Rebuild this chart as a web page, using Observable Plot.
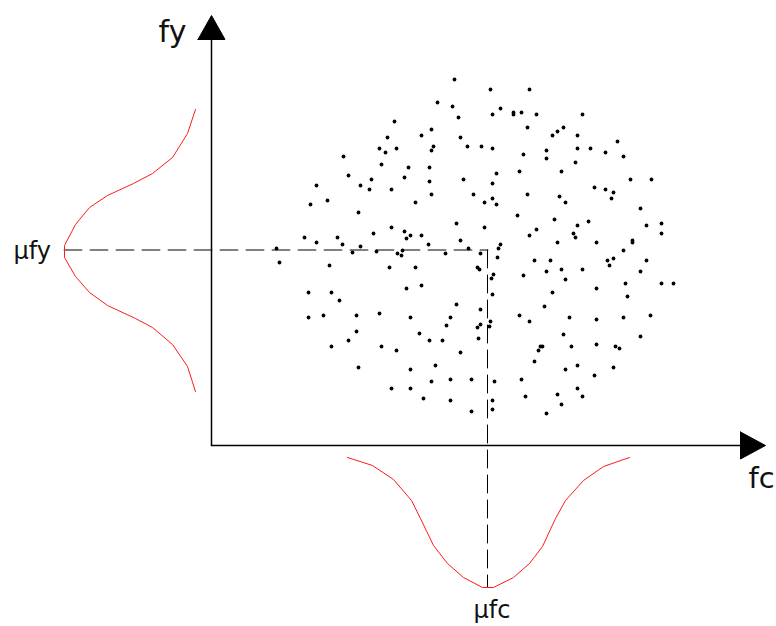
<!DOCTYPE html>
<html>
<head>
<meta charset="utf-8">
<script src="https://cdn.jsdelivr.net/npm/d3@7"></script>
<script src="https://cdn.jsdelivr.net/npm/@observablehq/plot@0.6"></script>
<style>
  html, body { margin: 0; padding: 0; background: #fff; }
  svg { display: block; }
</style>
</head>
<body>
<div id="chart"></div>
<script>
// Joint sample of concrete strength (fc) and steel yield strength (fy)
const samples = [
  [243,366],[226,343],[241,339],[247,328],[183,324],[220,316],[210,310],[176,308],[249,308],[168,297],
  [185,297],[222,299],[220,295],[256,299],[174,293],[132,289],[170,281],[197,278],[218,278],[137,270],
  [160,266],[193,268],[218,264],[252,266],[105,260],[149,260],[158,256],[180,256],[220,251],[262,251],
  [116,245],[99,241],[204,243],[147,233],[245,222],[180,218],[193,214],[162,212],[199,210],[195,207],
  [210,210],[93,208],[126,208],[249,205],[105,203],[131,201],[217,201],[149,199],[65,197],[257,197],
  [279,356],[318,356],[289,337],[281,331],[302,333],[302,331],[310,333],[325,331],[371,331],[316,318],
  [352,318],[346,314],[341,310],[366,310],[406,304],[270,299],[281,297],[335,295],[366,297],[379,297],
  [394,293],[312,291],[335,287],[412,289],[364,283],[285,272],[308,274],[350,274],[419,266],[440,266],
  [281,262],[383,258],[394,256],[402,253],[400,247],[316,251],[281,247],[273,243],[285,241],[348,249],
  [354,243],[429,237],[306,230],[343,226],[377,224],[450,222],[273,218],[366,220],[435,220],[325,216],
  [318,210],[362,212],[364,208],[450,212],[346,203],[385,203],[421,205],[421,203],[289,201],[287,197],
  [412,195],[269,192],[286,188],[323,185],[339,185],[396,185],[402,187],[435,185],[398,180],[266,178],
  [268,176],[335,174],[350,176],[371,176],[429,174],[282,171],[280,167],[312,170],[354,166],[385,157],
  [414,162],[450,162],[462,162],[281,151],[341,153],[416,149],[333,139],[269,136],[308,130],[358,128],
  [385,126],[412,128],[439,130],[318,124],[279,124],[269,121],[266,118],[278,119],[352,111],[429,109],
  [267,107],[329,99],[331,99],[327,95],[360,99],[385,101],[404,99],[408,97],[323,84],[366,80],
  [354,76],[402,78],[383,70],[283,64],[310,66],[366,57],[346,51],[371,49],[314,49],[281,45],
  [350,41],[281,36],[335,32],
  [141,193],[165,194],[186,192],[191,195],[190,190],[234,192],[68,183],[118,180],[178,178],[204,178],
  [195,157],[210,160],[97,153],[120,153],[128,145],[245,141],[97,128],[112,130],[145,130],[168,132],
  [199,128],[239,128],[235,120],[145,114],[208,112],[137,105],[218,105],[231,105],[120,99],[170,99],
  [185,95],[249,93],[224,80],[147,78],[199,76],[220,64],[239,66],[260,66],[180,57],[199,57],
  [212,47],[239,45],[260,34]
];

// Distribution of fy, drawn sideways to the left of the fy axis
const fyDensity = [
  [-16,336],[-24,312],[-39,288],[-59,272],[-78,262],[-104,250],[-122,238],[-136,221],[-147,200],
  [-147,195],[-147,188],[-136,169],[-122,153],[-104,140],[-76,127],[-59,118],[-39,101],[-24,79],[-16,54]
];

// Distribution of fc, drawn hanging below the fc axis
const fcDensity = [
  [136,-12],[161,-20],[182,-34],[200,-55],[209,-73],[222,-100],[236,-118],[252,-132],[271,-142],
  [282,-142],[302,-132],[318,-118],[331,-101],[344,-73],[354,-55],[372,-35],[392,-21],[418,-12]
];

// Means of the two variables
const muFc = 276;
const muFy = 195.5;
const fyPeak = -147;   // fc position of the fy density peak
const fcPeak = -142;   // fy position of the fc density peak

// Axis extents
const xAxisEnd = 529, xArrowTip = 554;
const yAxisEnd = 406, yArrowTip = 430;
const arrowHalf = 13.5;

const xArrow = [[xAxisEnd, arrowHalf], [xArrowTip, 0], [xAxisEnd, -arrowHalf], [xAxisEnd, arrowHalf]];
const yArrow = [[-arrowHalf, yAxisEnd], [0, yArrowTip], [arrowHalf, yAxisEnd], [-arrowHalf, yAxisEnd]];

const labels = [
  {text: "fy",  x: -39,  y: 413.6, size: 30, anchor: "middle"},
  {text: "fc",  x: 537,  y: -33,   size: 29, anchor: "start"},
  {text: "μfy", x: -198, y: 194.2, size: 24, anchor: "start"},
  {text: "μfc", x: 262,  y: -165.3, size: 24, anchor: "start"}
];

const px = d => d[0], py = d => d[1];

const chart = Plot.plot({
  width: 776,
  height: 626,
  margin: 0,
  x: {domain: [-211, 565], axis: null},
  y: {domain: [-181, 445], axis: null},
  style: {background: "#fff", fontFamily: "'DejaVu Sans', sans-serif", overflow: "visible"},
  marks: [
    // mean guides
    Plot.line([[fyPeak, muFy], [muFc, muFy]], {x: px, y: py, stroke: "#808080", strokeWidth: 2, strokeDasharray: "17,9"}),
    Plot.line([[muFc, muFy], [muFc, fcPeak]], {x: px, y: py, stroke: "#000", strokeWidth: 1, strokeDasharray: "18,7"}),
    // density curves
    Plot.line(fyDensity, {x: px, y: py, stroke: "#ff1a1a", strokeWidth: 1}),
    Plot.line(fcDensity, {x: px, y: py, stroke: "#ff1a1a", strokeWidth: 1}),
    // axes
    Plot.line([[0, 0], [xAxisEnd, 0]], {x: px, y: py, stroke: "#000", strokeWidth: 1.5}),
    Plot.line([[0, 0], [0, yAxisEnd]], {x: px, y: py, stroke: "#000", strokeWidth: 1.5}),
    Plot.line(xArrow, {x: px, y: py, fill: "#000", stroke: "#000", strokeWidth: 1}),
    Plot.line(yArrow, {x: px, y: py, fill: "#000", stroke: "#000", strokeWidth: 1}),
    // samples
    Plot.dot(samples, {x: px, y: py, r: 1.9, fill: "#000", stroke: null}),
    // labels
    ...labels.map(l => Plot.text([l], {
      x: "x", y: "y", text: "text", fontSize: l.size, textAnchor: l.anchor,
      lineAnchor: "middle", fill: "#111"
    }))
  ]
});

document.getElementById("chart").appendChild(chart);
</script>
</body>
</html>
